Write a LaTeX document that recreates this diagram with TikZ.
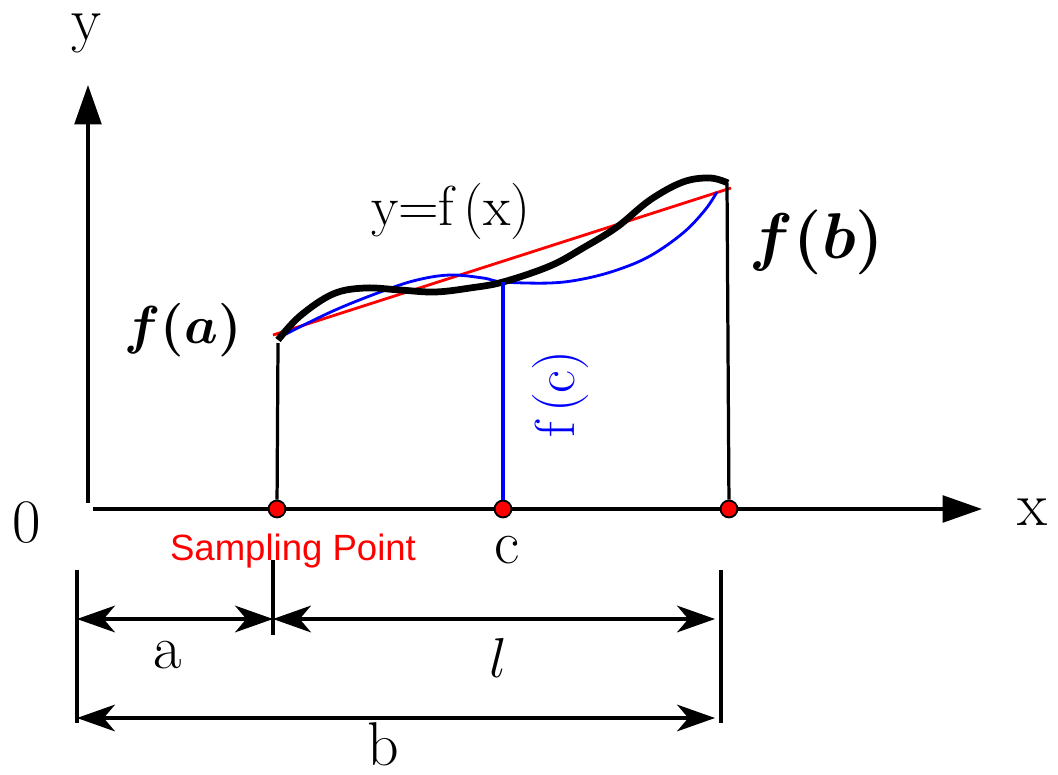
\RequirePackage{fix-cm}
\documentclass[tikz,border=0pt]{standalone}
\usepackage{fontspec}
\usetikzlibrary{positioning, arrows.meta}
\newfontfamily\labelsans{Liberation Sans}

\begin{document}
\begin{tikzpicture}[x=0.025cm,y=-0.025cm,
    axis/.style={line width=2.4pt,-{Triangle[length=28pt,width=19pt]}},
    stem/.style={line width=2.3pt},
    dimline/.style={line width=2.3pt,{Stealth[length=27pt,width=19pt,inset=8pt]}-{Stealth[length=27pt,width=19pt,inset=8pt]}},
    sampledot/.style={circle,draw=black,line width=1.3pt,fill=red,minimum size=12pt,inner sep=0pt},
    lbl/.style={font=\fontsize{44}{48}\selectfont,anchor=base,inner sep=0pt},
    font=\small
  ]
  \useasboundingbox (0,0) rectangle (1058,775);

  % axes
  \coordinate (yfoot) at (88,503);
  \coordinate (ytip) at (88,85);
  \coordinate (xfoot) at (93,509);
  \coordinate (xtip) at (982,509);
  \draw[axis] (yfoot) -- (ytip);
  \draw[axis] (xfoot) -- (xtip);

  % curves
  \coordinate (fa) at (278,343);
  \coordinate (fc) at (503,282);
  \coordinate (fb) at (727,183);
  \draw[red, line width=2pt] (273,335) -- (731,188);
  \draw[blue, line width=2pt] plot[smooth, tension=0.6] coordinates {(280,337) (333,311) (383,291) (417,280) (450,275) (483,278) (503,282) (550,283) (583,279) (617,270) (650,256) (683,233) (705,210) (717,192)};
  \draw[black, line width=4.8pt] plot[smooth, tension=0.6] coordinates {(278,340) (300,316) (333,294) (365,288) (400,290) (435,292) (470,288) (503,282) (550,266) (583,248) (617,227) (650,200) (683,182) (710,178) (728,183)};

  \node[sampledot] (pa) at (277,509) {};
  \node[sampledot] (pc) at (503,509) {};
  \node[sampledot] (pb) at (729,509) {};
  \draw[stem] (pa) -- (fa);
  \draw[stem, blue] (pc) -- (fc);
  \draw[stem] (pb) -- (fb);

  % dimension lines
  \foreach \n/\x/\ya/\yb in {l/77/570/723, m/273/560/635, r/721/570/723} {
    \coordinate (\n top) at (\x,\ya);
    \coordinate (\n bot) at (\x,\yb);
    \draw[stem] (\n top) -- (\n bot);
  }
  \coordinate (a0) at (77,619);
  \coordinate (a1) at (273,619);
  \coordinate (a2) at (715,619);
  \coordinate (b0) at (77,718);
  \coordinate (b1) at (715,718);
  \draw[dimline] (a0) -- (a1);
  \draw[dimline] (a1) -- (a2);
  \draw[dimline] (b0) -- (b1);

  % labels
  \node[lbl] (ylab) at (87,41) {y};
  \node[lbl] (xlab) at (1032,525) {x};
  \node[lbl] (zero) at (27,542) {0};
  \node[lbl] (clab) at (507,563) {c};
  \node[lbl] (alab) at (168,668) {a};
  \node[lbl,font=\fontsize{40}{44}\selectfont] (llab) at (498,677) {$l$};
  \node[lbl] (blab) at (383,765) {b};
  \node[lbl,font=\fontsize{40}{44}\selectfont] (curvelab) at (451,225) {y=f\,(x)};
  \node[lbl,font=\boldmath\fontsize{38}{42}\selectfont] (falab) at (183,343) {$f(a)$};
  \node[lbl,font=\boldmath\fontsize{46}{50}\selectfont] (fblab) at (817,258) {$f(b)$};
  \node[rotate=90,text=blue,inner sep=0pt,font=\fontsize{40}{44}\selectfont] (fclab) at (560,394) {f\,(c)};
  \node[lbl,text=red,font=\labelsans\fontsize{26}{30}\selectfont] (samplab) at (293,560) {Sampling Point};

\end{tikzpicture}
\end{document}
